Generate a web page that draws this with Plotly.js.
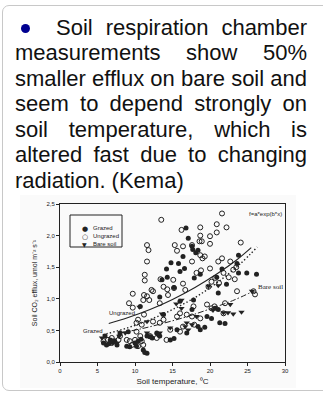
<!DOCTYPE html>
<html>
<head>
<meta charset="utf-8">
<script src="https://cdn.plot.ly/plotly-3.0.1.min.js"></script>
<style>
  html, body { margin:0; padding:0; width:323px; height:395px; overflow:hidden; background:#fff; }
  #card { position:absolute; left:2px; top:5px; width:360px; height:384px; border:1px solid #c8c8c8; border-radius:7px; }
  #imgbg { position:absolute; left:20px; top:195px; width:276px; height:193px; background:#fafafa; }
  #para { position:absolute; left:15px; top:14.6px; width:292px; font-family:"Liberation Sans", Arial, sans-serif; font-size:22px; line-height:25.5px; color:#111; }
  .ln { text-align:justify; text-align-last:justify; }
  .last { text-align:left; text-align-last:left; }
  #l1 { margin-left:41px; }
  #bullet { position:absolute; left:20.5px; top:23.5px; width:9px; height:9px; border-radius:50%; background:#000090; }
  #chart { position:absolute; left:0; top:0; width:323px; height:395px; }
</style>
</head>
<body>
<div id="card"></div>
<div id="imgbg"></div>
<div id="bullet"></div>
<div id="para">
  <div class="ln" id="l1">Soil respiration chamber</div>
  <div class="ln">measurements show 50%</div>
  <div class="ln">smaller efflux on bare soil and</div>
  <div class="ln">seem to depend strongly on</div>
  <div class="ln">soil temperature, which is</div>
  <div class="ln">altered fast due to changing</div>
  <div class="ln last">radiation. (Kema)</div>
</div>
<div id="chart"></div>
<script>
// Grazed (filled circles)
var grazedX = [16.8,17.1,17.6,17.7,18.1,18.4,16.4,14.8,14.2,14.3,15.8,16.0,16.6,15.2,13.6,13.3,10.7,17.9,18.7,23.6,23.8,24.9,26.2,23.8,21.6,20.9,21.1,22.2,19.6,20.7,21.1,21.3,22.0,18.4,18.7,16.9,15.6,14.7,15.2,13.3,12.9,11.6,11.1,11.6,10.0,10.4,10.2,8.9,9.1,8.0,6.7,6.0,6.2,7.3,7.6,13.8,17.6,16.0,17.8,5.8,6.5,7.0,9.3,11.3,12.3,10.8,12.0,19.3,20.2];
var grazedY = [2.12,1.96,1.83,1.78,1.73,1.77,1.67,1.57,1.47,1.34,1.56,1.43,1.48,1.18,1.30,1.03,0.88,1.33,1.39,1.56,1.69,1.41,1.39,1.41,1.47,1.34,1.09,1.23,0.72,0.85,0.83,0.62,0.61,0.56,0.51,0.46,0.51,0.35,0.37,0.41,0.46,0.41,0.19,0.14,0.30,0.33,0.25,0.25,0.48,0.46,0.35,0.41,0.27,0.33,0.27,0.75,0.83,0.96,0.98,0.30,0.29,0.31,0.24,0.15,0.38,0.36,0.40,0.55,0.69];
// Ungrazed (open circles)
var ungrazedX = [21.6,20.9,22.2,20.9,18.7,18.7,18.6,18.9,20.0,20.0,24.1,16.2,16.4,15.3,15.6,17.6,18.7,19.0,19.3,17.6,21.6,21.1,22.7,23.5,23.3,23.6,23.1,21.8,20.0,18.8,18.2,16.4,16.7,15.1,14.3,15.2,13.8,11.6,11.8,11.6,11.3,11.3,12.2,12.4,13.4,9.7,9.2,9.7,11.2,11.6,11.1,11.9,11.2,10.4,10.2,10.9,13.3,14.4,15.6,16.0,16.9,17.6,17.9,18.7,17.8,19.6,20.2,20.6,19.8,20.2,20.7,21.2,22.5,25.8,26.0,22.0,21.8,14.2,14.7,16.0,16.4,13.3,13.8,12.4,12.0,12.9,10.7,10.2,9.6,9.3,8.9,8.0,7.8,6.9,6.9,6.4,5.8,10.0,10.9,11.1,10.4,13.5];
var ungrazedY = [2.35,2.18,2.13,2.05,2.13,2.00,1.91,1.91,1.99,1.87,1.89,2.09,1.83,1.85,1.76,1.85,1.69,1.64,1.67,1.59,1.64,1.59,1.59,1.50,1.31,1.12,1.46,1.41,1.48,1.45,1.41,1.24,1.14,1.30,1.15,1.17,1.19,1.85,1.77,1.59,1.38,1.29,1.14,1.12,1.31,1.08,0.93,0.86,1.06,1.04,0.98,0.98,0.75,0.67,0.62,0.59,0.93,1.06,0.72,0.77,0.75,0.72,0.59,0.69,0.88,0.91,0.85,0.88,1.19,1.27,1.33,1.25,1.34,1.12,1.07,0.93,0.77,0.35,0.51,0.48,0.56,0.62,0.67,0.64,0.41,0.38,0.41,0.48,0.27,0.33,0.35,0.41,0.35,0.38,0.30,0.35,0.33,0.35,0.33,0.27,0.25,2.25];
// Bare soil (filled down triangles)
var bareX = [25.6,22.7,21.8,22.4,23.1,24.2,21.1,16.2,16.2,13.6,13.3,13.0,11.6,12.0,11.6,10.6,7.9,7.6,7.1,5.6,8.7,16.9,17.1,17.6,16.7,14.7,19.8,18.2,20.4,15.5];
var bareY = [1.12,0.91,0.78,0.78,0.76,0.79,1.21,0.98,0.85,0.76,0.46,0.43,0.46,0.41,0.64,0.87,0.41,0.30,0.35,0.38,0.46,0.62,0.51,0.59,0.56,0.54,1.20,0.72,0.82,0.92];
// Fitted curves f=a*exp(b*x)
var fitUngrazedX = [6.5,9,12,15,18,21,23.5,25.5];
var fitUngrazedY = [0.61,0.70,0.83,0.99,1.18,1.40,1.61,1.81];
var fitGrazedX = [5.7,9,12,15,18,21,24,26.3];
var fitGrazedY = [0.43,0.54,0.67,0.83,1.02,1.26,1.55,1.82];
var fitBareX = [8,11,14,17,20,23,25.6];
var fitBareY = [0.46,0.53,0.62,0.72,0.84,0.97,1.11];
// Tick labels
var xTicks = [0,5,10,15,20,25,30];
var yTicks = [0,0.5,1,1.5,2,2.5];
var yTickText = ["0,0","0,5","1,0","1,5","2,0","2,5"];

var ink = '#222';
var traces = [
  {x:fitUngrazedX, y:fitUngrazedY, mode:'lines', line:{color:ink, width:1.1, shape:'spline'}, hoverinfo:'skip'},
  {x:fitGrazedX, y:fitGrazedY, mode:'lines', line:{color:ink, width:1.4, dash:'1.4px,2.2px', shape:'spline'}, hoverinfo:'skip'},
  {x:fitBareX, y:fitBareY, mode:'lines', line:{color:ink, width:1, dash:'6px,2px,1.5px,2px', shape:'spline'}, hoverinfo:'skip'},
  {x:ungrazedX, y:ungrazedY, mode:'markers', name:'Ungrazed', marker:{symbol:'circle-open', size:5, color:ink, line:{width:1, color:ink}}},
  {x:grazedX, y:grazedY, mode:'markers', name:'Grazed', marker:{symbol:'circle', size:5, color:ink}},
  {x:bareX, y:bareY, mode:'markers', name:'Bare soil', marker:{symbol:'triangle-down', size:5.5, color:ink}}
];

var sans = 'Liberation Sans, Arial, sans-serif';
function lp(px){ return (px-60)/225; }
function tp(py){ return (362-py)/158; }
var ann = [
  {xref:'x', yref:'y', x:24.9, y:2.34, xanchor:'left', text:'f=a*exp(b*x)', showarrow:false, font:{family:sans, size:6, color:ink}},
  {xref:'x', yref:'y', x:28.0, y:1.18, text:'Bare soil', showarrow:false, font:{family:'Liberation Serif, Times New Roman, serif', size:7, color:ink}},
  {xref:'x', yref:'y', x:8.3, y:0.77, text:'Ungrazed', showarrow:false, font:{family:sans, size:6, color:ink}},
  {xref:'x', yref:'y', x:4.45, y:0.495, text:'Grazed', showarrow:false, font:{family:sans, size:6, color:ink}},
  // legend
  {xref:'paper', yref:'paper', x:lp(80), y:tp(222.5), text:'●', showarrow:false, font:{family:'DejaVu Sans', size:7, color:ink}},
  {xref:'paper', yref:'paper', x:lp(80), y:tp(230.5), text:'○', showarrow:false, font:{family:'DejaVu Sans', size:7, color:ink}},
  {xref:'paper', yref:'paper', x:lp(80), y:tp(238.5), text:'▼', showarrow:false, font:{family:'DejaVu Sans', size:6, color:ink}},
  {xref:'paper', yref:'paper', x:lp(91), y:tp(222.5), xanchor:'left', text:'Grazed', showarrow:false, font:{family:sans, size:6, color:ink}},
  {xref:'paper', yref:'paper', x:lp(91), y:tp(230.5), xanchor:'left', text:'Ungrazed', showarrow:false, font:{family:sans, size:6, color:ink}},
  {xref:'paper', yref:'paper', x:lp(91), y:tp(238.5), xanchor:'left', text:'Bare soil', showarrow:false, font:{family:sans, size:6, color:ink}}
];

var layout = {
  width:323, height:395,
  margin:{l:60, r:38, t:204, b:33, pad:0},
  paper_bgcolor:'rgba(0,0,0,0)', plot_bgcolor:'rgba(0,0,0,0)',
  showlegend:false,
  font:{family:sans, size:6, color:ink},
  xaxis:{range:[0,30], tickvals:xTicks, ticks:'outside', ticklen:3, tickwidth:1, tickcolor:ink,
         showline:true, linecolor:ink, linewidth:1, mirror:true, showgrid:false, zeroline:false,
         tickfont:{family:sans, size:6, color:ink},
         title:{text:'Soil temperature, \u2070C', font:{family:sans, size:8, color:ink}, standoff:5}},
  yaxis:{range:[0,2.5], tickvals:yTicks, ticktext:yTickText, ticks:'outside', ticklen:3, tickwidth:1, tickcolor:ink,
         showline:true, linecolor:ink, linewidth:1, mirror:true, showgrid:false, zeroline:false,
         tickfont:{family:sans, size:6, color:ink},
         title:{text:'Soil CO\u2082 efflux, umol m\u207B\u00B2 s\u207B\u00B9', font:{family:sans, size:7, color:ink}, standoff:8}},
  shapes:[
    {type:'rect', xref:'paper', yref:'paper', x0:lp(70), x1:lp(122), y0:tp(247), y1:tp(215), line:{color:ink, width:1}}
  ],
  annotations:ann
};

Plotly.newPlot('chart', traces, layout, {staticPlot:true, displayModeBar:false});
</script>
</body>
</html>
